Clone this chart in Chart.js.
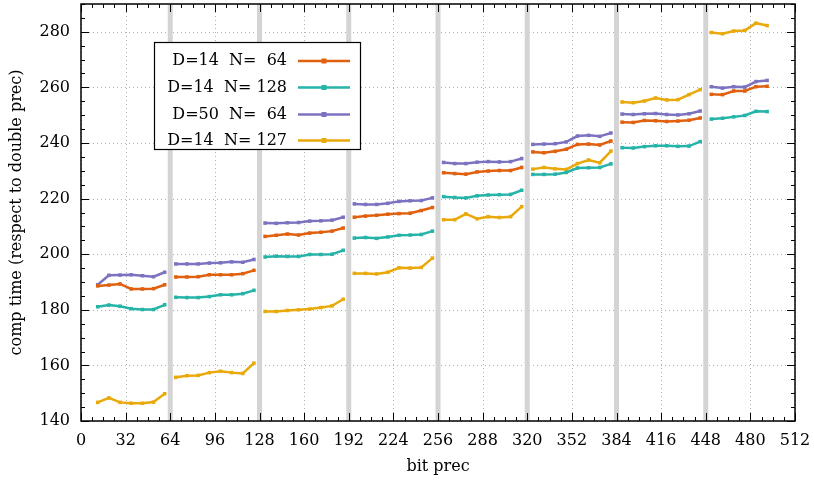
<!DOCTYPE html>
<html>
<head>
<meta charset="utf-8">
<script src="https://cdn.jsdelivr.net/npm/chart.js@4"></script>
<style>
    body { margin: 0; background: #fff; }
    #wrap { width: 814px; height: 480px; position: relative; }
</style>
</head>
<body>
<div id="wrap"><canvas id="chart"></canvas></div>
<script>
// bit precision of each sample, one block per 64-bit band
const bitPrec = [
    [12, 20, 28, 36, 44, 52, 60],
    [68, 76, 84, 92, 100, 108, 116, 124],
    [132, 140, 148, 156, 164, 172, 180, 188],
    [196, 204, 212, 220, 228, 236, 244, 252],
    [260, 268, 276, 284, 292, 300, 308, 316],
    [324, 332, 340, 348, 356, 364, 372, 380],
    [388, 396, 404, 412, 420, 428, 436, 444],
    [452, 460, 468, 476, 484, 492],
];

const seriesLabels = ['D=14  N=  64', 'D=14  N= 128', 'D=50  N=  64', 'D=14  N= 127'];
const seriesColors = ['#e0600e', '#26b3a8', '#7b72c0', '#e9a90a'];

const d14n64 = [
    [188.6, 188.9, 189.3, 187.5, 187.5, 187.6, 189.0],
    [191.8, 191.8, 191.9, 192.6, 192.6, 192.6, 193.0, 194.2],
    [206.4, 206.8, 207.25, 206.9, 207.6, 207.9, 208.3, 209.4],
    [213.3, 213.7, 214.0, 214.4, 214.6, 214.75, 215.7, 216.8],
    [229.3, 229.0, 228.8, 229.6, 229.9, 230.1, 230.1, 231.2],
    [236.8, 236.5, 237.0, 237.75, 239.5, 239.6, 239.3, 240.7],
    [247.5, 247.4, 248.1, 248.0, 247.75, 247.9, 248.2, 249.0],
    [257.5, 257.4, 258.7, 258.7, 260.25, 260.4],
];
const d14n128 = [
    [181.1, 181.7, 181.3, 180.4, 180.1, 180.1, 181.8],
    [184.5, 184.4, 184.4, 184.75, 185.4, 185.4, 185.8, 187.0],
    [199.0, 199.3, 199.2, 199.2, 199.9, 199.9, 200.0, 201.4],
    [205.8, 206.0, 205.7, 206.2, 206.8, 206.9, 207.1, 208.3],
    [220.7, 220.4, 220.25, 221.0, 221.3, 221.4, 221.5, 223.0],
    [228.7, 228.7, 228.8, 229.4, 231.0, 231.1, 231.2, 232.5],
    [238.3, 238.2, 238.7, 239.0, 239.0, 238.8, 238.9, 240.5],
    [248.6, 248.9, 249.4, 249.9, 251.4, 251.3],
];
const d50n64 = [
    [189.0, 192.4, 192.5, 192.6, 192.25, 191.9, 193.5],
    [196.5, 196.5, 196.5, 196.8, 196.9, 197.25, 197.1, 198.1],
    [211.2, 211.1, 211.3, 211.4, 211.9, 212.0, 212.25, 213.3],
    [218.1, 217.9, 217.9, 218.3, 219.0, 219.2, 219.3, 220.25],
    [233.0, 232.6, 232.6, 233.1, 233.3, 233.2, 233.3, 234.4],
    [239.5, 239.6, 239.75, 240.4, 242.5, 242.75, 242.4, 243.6],
    [250.4, 250.25, 250.5, 250.6, 250.25, 250.1, 250.5, 251.5],
    [260.25, 259.75, 260.25, 260.1, 262.1, 262.5],
];
const d14n127 = [
    [146.7, 148.3, 146.7, 146.4, 146.4, 146.8, 149.8],
    [155.7, 156.3, 156.4, 157.4, 157.9, 157.4, 157.1, 160.8],
    [179.4, 179.4, 179.75, 180.0, 180.25, 180.8, 181.4, 183.8],
    [193.1, 193.1, 192.9, 193.5, 195.1, 195.0, 195.25, 198.6],
    [212.4, 212.4, 214.5, 212.75, 213.5, 213.2, 213.5, 217.1],
    [230.6, 231.2, 230.7, 230.5, 232.6, 233.9, 232.9, 237.1],
    [254.75, 254.5, 255.1, 256.2, 255.5, 255.6, 257.4, 259.2],
    [279.75, 279.3, 280.25, 280.5, 283.1, 282.25],
];

const bandEdges = [64, 128, 192, 256, 320, 384, 448];
const xTicks = [0, 32, 64, 96, 128, 160, 192, 224, 256, 288, 320, 352, 384, 416, 448, 480, 512];
const yTicks = [140, 160, 180, 200, 220, 240, 260, 280];

const FONT = 'DejaVu Serif';

// flatten the blocks, putting a null point between bands so the line breaks
function toPoints(blocks) {
    const pts = [];
    blocks.forEach((vals, g) => {
        vals.forEach((v, i) => pts.push({ x: bitPrec[g][i], y: v }));
        if (g < blocks.length - 1) pts.push({ x: bandEdges[g], y: null });
    });
    return pts;
}

const allSeries = [d14n64, d14n128, d50n64, d14n127];

// grid, gray band separators, inward ticks and frame
const framePlugin = {
    id: 'frame',
    beforeDatasetsDraw(chart) {
        const { ctx, chartArea: a, scales: { x, y } } = chart;
        ctx.save();
        // dotted grid
        ctx.strokeStyle = '#b0b0b0';
        ctx.lineWidth = 1;
        ctx.setLineDash([1, 3]);
        xTicks.forEach(v => {
            const px = Math.round(x.getPixelForValue(v)) + 0.5;
            ctx.beginPath(); ctx.moveTo(px, a.top); ctx.lineTo(px, a.bottom); ctx.stroke();
        });
        yTicks.forEach(v => {
            const py = Math.round(y.getPixelForValue(v)) + 0.5;
            ctx.beginPath(); ctx.moveTo(a.left, py); ctx.lineTo(a.right, py); ctx.stroke();
        });
        ctx.setLineDash([]);
        // band separators
        ctx.strokeStyle = '#d4d4d4';
        ctx.lineWidth = 5;
        bandEdges.forEach(v => {
            const px = x.getPixelForValue(v);
            ctx.beginPath(); ctx.moveTo(px, a.top); ctx.lineTo(px, a.bottom); ctx.stroke();
        });
        ctx.restore();
    },
    afterDatasetsDraw(chart) {
        const { ctx, chartArea: a, scales: { x, y } } = chart;
        ctx.save();
        ctx.strokeStyle = '#000';
        ctx.lineWidth = 1;
        for (let v = 0; v <= 512; v += 8) {
            const len = v % 32 === 0 ? 8 : 4;
            const px = Math.round(x.getPixelForValue(v)) + 0.5;
            ctx.beginPath();
            ctx.moveTo(px, a.bottom); ctx.lineTo(px, a.bottom - len);
            ctx.moveTo(px, a.top); ctx.lineTo(px, a.top + len);
            ctx.stroke();
        }
        for (let v = 140; v <= 290; v += 5) {
            const len = v % 20 === 0 ? 8 : 4;
            const py = Math.round(y.getPixelForValue(v)) + 0.5;
            ctx.beginPath();
            ctx.moveTo(a.left, py); ctx.lineTo(a.left + len, py);
            ctx.moveTo(a.right, py); ctx.lineTo(a.right - len, py);
            ctx.stroke();
        }
        ctx.lineWidth = 1.5;
        ctx.strokeRect(a.left, a.top, a.right - a.left, a.bottom - a.top);
        ctx.restore();
    },
};

// boxed legend in the upper left
const legendBox = {
    id: 'legendBox',
    afterDraw(chart) {
        const { ctx } = chart;
        ctx.save();
        ctx.fillStyle = '#fff';
        ctx.fillRect(154, 42, 207, 108);
        ctx.strokeStyle = '#000';
        ctx.lineWidth = 1.2;
        ctx.strokeRect(154.5, 42.5, 206, 107);
        ctx.font = `16px "${FONT}"`;
        ctx.textAlign = 'right';
        ctx.textBaseline = 'middle';
        const rows = [61, 87.5, 114.5, 140.5];
        seriesLabels.forEach((lbl, i) => {
            ctx.fillStyle = '#000';
            ctx.fillText(lbl, 287, rows[i]);
            ctx.strokeStyle = seriesColors[i];
            ctx.lineWidth = 2.5;
            ctx.beginPath(); ctx.moveTo(298, rows[i]); ctx.lineTo(350, rows[i]); ctx.stroke();
            ctx.fillStyle = seriesColors[i];
            ctx.fillRect(321.5, rows[i] - 2.5, 5, 5);
        });
        ctx.restore();
    },
};

new Chart(document.getElementById('chart'), {
    type: 'line',
    data: {
        datasets: allSeries.map((s, i) => ({
            label: seriesLabels[i],
            data: toPoints(s),
            borderColor: seriesColors[i],
            backgroundColor: seriesColors[i],
            borderWidth: 2.5,
            pointStyle: 'rect',
            pointRadius: 2.5,
            pointBorderWidth: 0,
            spanGaps: false,
            tension: 0,
        })),
    },
    options: {
        responsive: true,
        maintainAspectRatio: false,
        animation: false,
        layout: { padding: { left: 0, right: 19, top: 3, bottom: 0 } },
        plugins: {
            legend: { display: false },
            tooltip: { enabled: false },
        },
        scales: {
            x: {
                type: 'linear',
                min: 0,
                max: 512,
                afterFit: (s) => { s.height = 59; s.paddingLeft = 0; s.paddingRight = 0; },
                afterBuildTicks: (s) => { s.ticks = xTicks.map(v => ({ value: v })); },
                ticks: { color: '#000', font: { family: FONT, size: 16 }, padding: 10, maxRotation: 0, autoSkip: false },
                grid: { display: false, drawTicks: false },
                border: { display: false },
                title: { display: true, text: 'bit prec', color: '#000', font: { family: FONT, size: 16 }, padding: { top: 0, bottom: 4 } },
            },
            y: {
                min: 140,
                max: 290,
                afterFit: (s) => { s.width = 81; s.paddingTop = 0; s.paddingBottom = 0; },
                afterBuildTicks: (s) => { s.ticks = yTicks.map(v => ({ value: v })); },
                ticks: { color: '#000', font: { family: FONT, size: 16 }, padding: 11 },
                grid: { display: false, drawTicks: false },
                border: { display: false },
                title: { display: true, text: 'comp time (respect to double prec)', color: '#000', font: { family: FONT, size: 16 }, padding: { top: 7, bottom: 0 } },
            },
        },
    },
    plugins: [framePlugin, legendBox],
});
</script>
</body>
</html>
